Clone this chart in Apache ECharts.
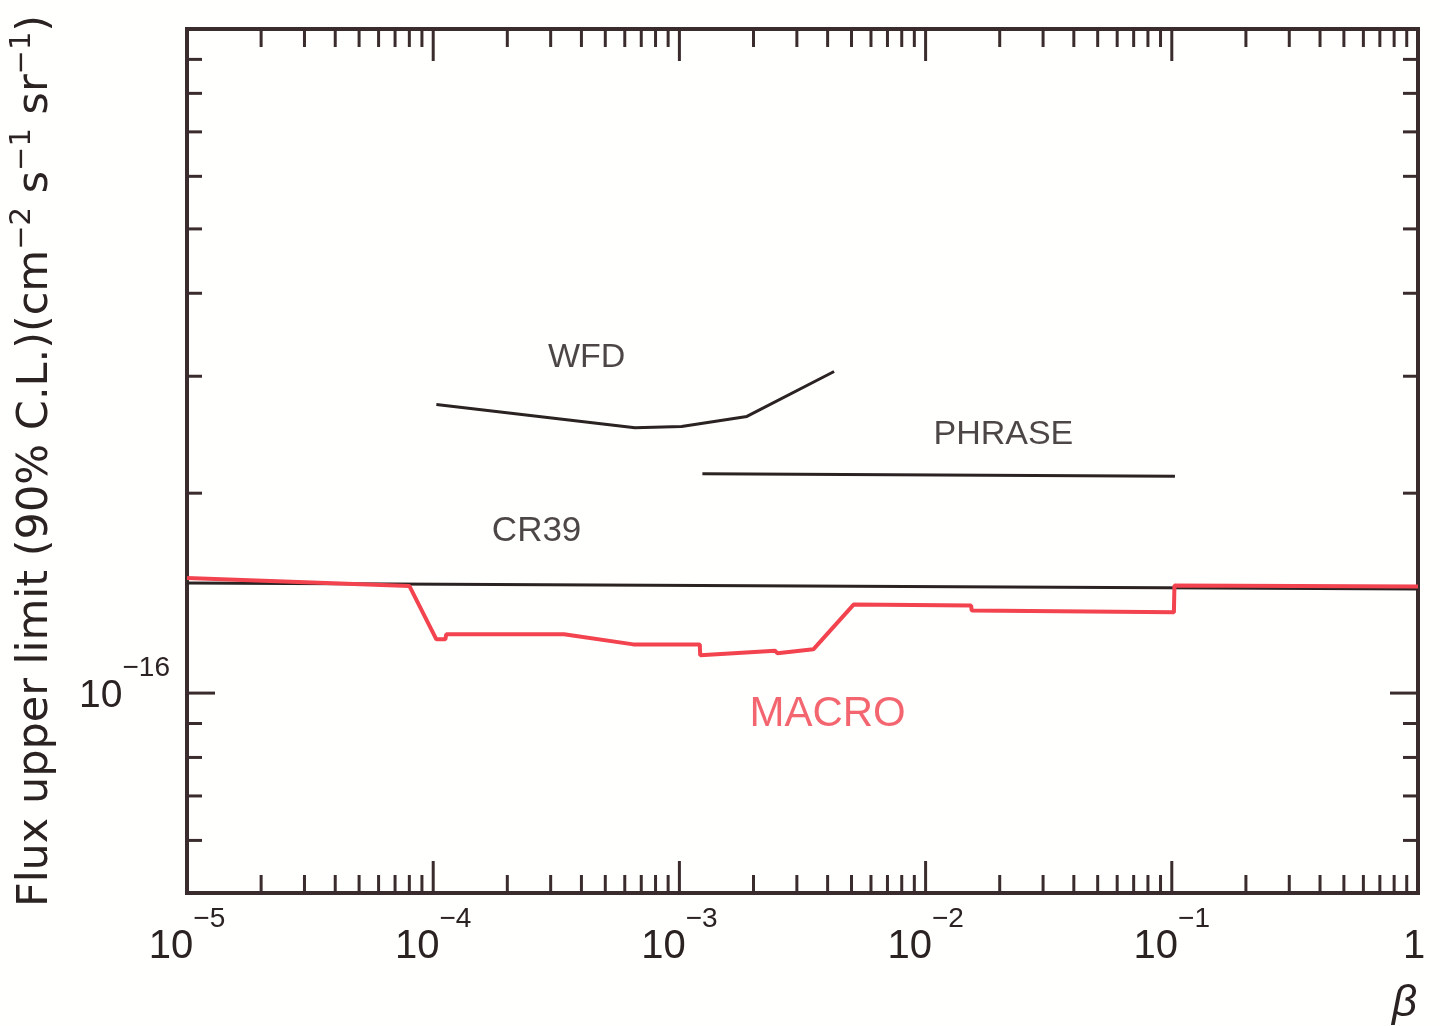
<!DOCTYPE html>
<html>
<head>
<meta charset="utf-8">
<script src="https://cdn.jsdelivr.net/npm/echarts@6/dist/echarts.min.js"></script>
<style>
html,body{margin:0;padding:0;background:#fffffd;}
#chart{width:1440px;height:1026px;}
</style>
</head>
<body>
<div id="chart"></div>
<script>
// ---- data ----
const xDecades = [1e-5, 1e-4, 1e-3, 1e-2, 1e-1, 1];
const yDecades = [1e-17, 1e-16, 1e-15];
const minorMultipliers = [2, 3, 4, 5, 6, 7, 8, 9];
const yLabelValues = [1e-16];
const xRange = [1e-5, 1];
const yRange = [5e-17, 1e-15];

const cr39 = [[1e-5, 1.465e-16], [1, 1.435e-16]];
const wfd = [[1.03e-4, 2.72e-16], [6.6e-4, 2.51e-16], [1.02e-3, 2.52e-16], [1.88e-3, 2.61e-16], [4.25e-3, 3.05e-16]];
const phrase = [[1.24e-3, 2.14e-16], [0.103, 2.12e-16]];
const macro = [
  [1e-5, 1.49e-16], [8.0e-5, 1.45e-16], [1.03e-4, 1.205e-16], [1.12e-4, 1.205e-16],
  [1.13e-4, 1.226e-16], [3.4e-4, 1.226e-16], [6.5e-4, 1.184e-16], [1.21e-3, 1.184e-16],
  [1.215e-3, 1.14e-16], [2.45e-3, 1.158e-16], [2.5e-3, 1.148e-16], [3.5e-3, 1.164e-16],
  [5.1e-3, 1.359e-16], [1.53e-2, 1.355e-16], [1.54e-2, 1.331e-16], [0.102, 1.323e-16],
  [0.1025, 1.452e-16], [1, 1.447e-16]
];
const annotations = [
  {name: 'WFD', value: [4.2e-4, 3.2e-16], color: '#1f1818', size: 34},
  {name: 'PHRASE', value: [0.0207, 2.45e-16], color: '#1f1818', size: 34},
  {name: 'CR39', value: [2.63e-4, 1.75e-16], color: '#1f1818', size: 35},
  {name: 'MACRO', value: [4.0e-3, 9.3e-17], color: '#f0404c', size: 42}
];

// ---- styles ----
const ink = '#2b2222';
const frame = '#3a2c2c';
const red = '#f2434f';
const font = '"Liberation Sans", Arial, sans-serif';
const nameFont = '"DejaVu Sans", "Liberation Sans", sans-serif';

function supLabel(v) {
  const e = Math.round(Math.log10(v));
  if (e === 0) return '{b|1}{s| }';
  return '{b|10}{s|\u2212' + (-e) + '}';
}

const chart = echarts.init(document.getElementById('chart'), null, {renderer: 'canvas'});

const option = {
  backgroundColor: '#fffffd',
  animation: false,
  grid: {left: 181, right: 22, top: 29, bottom: 133, show: true, borderColor: frame, borderWidth: 4, backgroundColor: 'transparent'},
  xAxis: {
    type: 'log', logBase: 10, min: xRange[0], max: xRange[1],
    axisLine: {show: false}, axisTick: {show: false}, splitLine: {show: false}, minorTick: {show: false},
    axisLabel: {
      margin: 12, color: ink, fontFamily: font,
      formatter: supLabel,
      rich: {
        b: {fontSize: 40, fontFamily: font, color: ink, verticalAlign: 'bottom'},
        s: {fontSize: 28, fontFamily: font, color: ink, verticalAlign: 'bottom', padding: [0, 0, 34, 0]}
      }
    }
  },
  yAxis: {
    type: 'log', logBase: 10, min: yRange[0], max: yRange[1],
    axisLine: {show: false}, axisTick: {show: false}, splitLine: {show: false}, axisLabel: {show: false},
    name: 'Flux upper limit (90% C.L.)(cm{s|\u22122} s{s|\u22121} sr{s|\u22121})',
    nameLocation: 'middle', nameRotate: 90, nameGap: 124,
    nameTextStyle: {
      fontSize: 43, fontFamily: nameFont, color: ink,
      rich: {s: {fontSize: 29, fontFamily: nameFont, color: ink, padding: [0, 0, 26, 0]}}
    }
  },
  graphic: [{
    type: 'text', left: 1392, top: 982,
    style: {text: '\u03b2', font: 'italic 44px ' + font, fill: ink}
  }],
  series: [
    {type: 'line', name: 'CR39', data: cr39, symbol: 'none', lineStyle: {color: ink, width: 3}, z: 3},
    {type: 'line', name: 'WFD', data: wfd, symbol: 'none', lineStyle: {color: ink, width: 3}, z: 3},
    {type: 'line', name: 'PHRASE', data: phrase, symbol: 'none', lineStyle: {color: ink, width: 3}, z: 3},
    {type: 'line', name: 'MACRO', data: macro, symbol: 'none', lineStyle: {color: red, width: 4}, z: 4},
    {
      type: 'scatter', symbolSize: 0, silent: true, z: 5,
      data: annotations.map(a => ({
        name: a.name, value: a.value,
        label: {show: true, position: 'inside', formatter: '{b}', color: a.color, fontSize: a.size, fontFamily: font, textBorderWidth: 0}
      }))
    },
    {
      type: 'custom', silent: true, clip: false, z: 6,
      data: [[xRange[0], yRange[0]]],
      renderItem: function (params, api) {
        const cs = params.coordSys;
        const left = cs.x, top = cs.y, right = cs.x + cs.width, bottom = cs.y + cs.height;
        const children = [];
        const st = {stroke: frame, lineWidth: 3};
        function addX(v, len) {
          const px = api.coord([v, yRange[0]])[0];
          children.push({type: 'line', shape: {x1: px, y1: bottom, x2: px, y2: bottom - len}, style: st});
          children.push({type: 'line', shape: {x1: px, y1: top, x2: px, y2: top + len}, style: st});
        }
        function addY(v, len) {
          const py = api.coord([xRange[0], v])[1];
          children.push({type: 'line', shape: {x1: left, y1: py, x2: left + len, y2: py}, style: st});
          children.push({type: 'line', shape: {x1: right, y1: py, x2: right - len, y2: py}, style: st});
        }
        xDecades.forEach(d => {
          if (d > xRange[0] && d < xRange[1]) addX(d, 32);
          minorMultipliers.forEach(m => {
            const v = d * m;
            if (v > xRange[0] && v < xRange[1]) addX(v, 18);
          });
        });
        yDecades.forEach(d => {
          if (d > yRange[0] && d < yRange[1]) addY(d, 28);
          minorMultipliers.forEach(m => {
            const v = d * m;
            if (v > yRange[0] * 1.0001 && v < yRange[1] * 0.9999) addY(v, 15);
          });
        });
        yLabelValues.forEach(v => {
          const py = api.coord([xRange[0], v])[1];
          children.push({
            type: 'text',
            style: {
              text: supLabel(v), x: left - 17, y: py - 8, align: 'right', verticalAlign: 'middle',
              rich: {
                b: {fontSize: 39, fontFamily: font, fill: ink, verticalAlign: 'bottom'},
                s: {fontSize: 28, fontFamily: font, fill: ink, verticalAlign: 'bottom', padding: [0, 0, 34, 0]}
              }
            }
          });
        });
        return {type: 'group', children: children};
      }
    }
  ]
};
chart.setOption(option);
</script>
</body>
</html>
